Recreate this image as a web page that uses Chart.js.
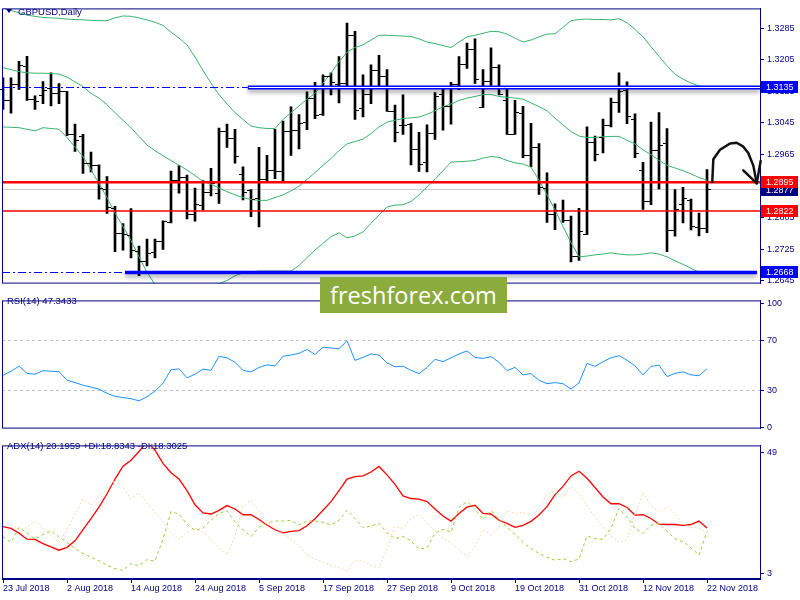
<!DOCTYPE html>
<html lang="en">
  <head>
    <meta charset="UTF-8" />
    <title>GBPUSD,Daily</title>
    <script src="https://cdn.jsdelivr.net/npm/chart.js@4.4.1/dist/chart.umd.min.js"></script>
    <style>
      body {
        margin: 0;
        background: #ffffff;
      }
      .wrap {
        position: relative;
        width: 800px;
        height: 600px;
        overflow: hidden;
        font-family: "Liberation Sans", Arial, sans-serif;
      }
      .pane {
        position: absolute;
        left: 0;
      }
      .label {
        position: absolute;
        color: #000080;
        font-size: 9.5px;
        line-height: 11px;
        white-space: nowrap;
      }
      .tri {
        position: absolute;
        left: 6px;
        top: 9px;
        width: 0;
        height: 0;
        border-left: 3px solid transparent;
        border-right: 3px solid transparent;
        border-top: 4px solid #000080;
      }
      .logo {
        position: absolute;
        left: 320px;
        top: 277px;
        width: 187px;
        height: 36px;
        background: #8bab3d;
        color: #ffffff;
        font-family: "Open Sans", sans-serif;
        font-size: 23.5px;
        line-height: 36px;
        text-align: center;
      }
    </style>
  </head>

  <body>
    <div class="wrap">
      <canvas id="mainChart" class="pane" style="top: 0px" width="800" height="292"></canvas>
      <canvas id="rsiChart" class="pane" style="top: 292px" width="800" height="145"></canvas>
      <canvas id="adxChart" class="pane" style="top: 437px" width="800" height="163"></canvas>
      <div class="tri"></div>
      <div class="label" style="left: 18px; top: 6px">GBPUSD,Daily</div>
      <div class="label" style="left: 7px; top: 295px">RSI(14) 47.3433</div>
      <div class="label" style="left: 7px; top: 440px">ADX(14) 20.1959 +DI:18.8343 -DI:18.3025</div>
      <div class="logo">freshforex.com</div>
    </div>

    <script>
      // daily bars, 23 Jul 2018 .. 22 Nov 2018
      const dateLabels = ["23 Jul 2018", "2 Aug 2018", "14 Aug 2018", "24 Aug 2018", "5 Sep 2018", "17 Sep 2018",
        "27 Sep 2018", "9 Oct 2018", "19 Oct 2018", "31 Oct 2018", "12 Nov 2018", "22 Nov 2018"];
      const dateTickBars = [0, 8, 16, 24, 32, 40, 48, 56, 64, 72, 80, 88];

      const opens = [1.3130, 1.3102, 1.3144, 1.3189, 1.3106, 1.3116, 1.3133, 1.3122, 1.3125, 1.3016,
        1.3012, 1.2943, 1.2938, 1.2878, 1.2829, 1.2767, 1.2761, 1.2721, 1.2696, 1.2717,
        1.2745, 1.2793, 1.2900, 1.2909, 1.2814, 1.2836, 1.2870, 1.2868, 1.3024, 1.3008,
        1.2915, 1.2874, 1.2854, 1.2903, 1.2927, 1.2923, 1.3025, 1.3028, 1.3047, 1.3108,
        1.3067, 1.3163, 1.3143, 1.3145, 1.3267, 1.3082, 1.3118, 1.3179, 1.3165, 1.3076,
        1.3039, 1.3043, 1.2979, 1.2945, 1.3019, 1.3118, 1.3088, 1.3144, 1.3195, 1.3232,
        1.3086, 1.3152, 1.3187, 1.3102, 1.3017, 1.3070, 1.2965, 1.2983, 1.2880, 1.2814,
        1.2824, 1.2798, 1.2707, 1.2763, 1.2996, 1.3009, 1.3041, 1.3098, 1.3129, 1.3056,
        1.2925, 1.2848, 1.2977, 1.2993, 1.2773, 1.2840, 1.2850, 1.2782, 1.2778];
      const highs = [1.3159, 1.3159, 1.3201, 1.3214, 1.3114, 1.3150, 1.3172, 1.3145, 1.3125, 1.3042,
        1.3016, 1.2971, 1.2939, 1.2909, 1.2834, 1.2790, 1.2828, 1.2733, 1.2751, 1.2751,
        1.2797, 1.2923, 1.2937, 1.2913, 1.2880, 1.2899, 1.2930, 1.3032, 1.3042, 1.3029,
        1.2934, 1.2876, 1.2983, 1.2963, 1.3029, 1.3050, 1.3086, 1.3066, 1.3124, 1.3148,
        1.3167, 1.3172, 1.3213, 1.3298, 1.3277, 1.3167, 1.3192, 1.3216, 1.3180, 1.3090,
        1.3116, 1.3044, 1.3021, 1.3040, 1.3122, 1.3130, 1.3148, 1.3213, 1.3247, 1.3258,
        1.3180, 1.3235, 1.3192, 1.3130, 1.3102, 1.3087, 1.3044, 1.2993, 1.2919, 1.2840,
        1.2850, 1.2809, 1.2829, 1.3035, 1.3012, 1.3055, 1.3108, 1.3172, 1.3149, 1.3068,
        1.2945, 1.3047, 1.3071, 1.3031, 1.2876, 1.2882, 1.2852, 1.2817, 1.2927];
      const lows = [1.3079, 1.3070, 1.3130, 1.3102, 1.3079, 1.3094, 1.3088, 1.3094, 1.3013, 1.2973,
        1.2917, 1.2921, 1.2852, 1.2816, 1.2719, 1.2723, 1.2703, 1.2658, 1.2683, 1.2703,
        1.2725, 1.2792, 1.2867, 1.2802, 1.2796, 1.2824, 1.2860, 1.2841, 1.2983, 1.2943,
        1.2850, 1.2808, 1.2782, 1.2895, 1.2904, 1.2895, 1.2963, 1.2979, 1.3028, 1.3056,
        1.3064, 1.3116, 1.3096, 1.3132, 1.3054, 1.3060, 1.3094, 1.3137, 1.3074, 1.2997,
        1.3016, 1.2939, 1.2922, 1.2921, 1.3003, 1.3027, 1.3042, 1.3129, 1.3183, 1.3145,
        1.3084, 1.3140, 1.3116, 1.3016, 1.3016, 1.2957, 1.2934, 1.2864, 1.2793, 1.2775,
        1.2793, 1.2693, 1.2697, 1.2762, 1.2949, 1.2969, 1.3035, 1.3072, 1.3043, 1.2957,
        1.2826, 1.2838, 1.2878, 1.2719, 1.2758, 1.2792, 1.2774, 1.2759, 1.2767];
      const closes = [1.3102, 1.3144, 1.3191, 1.3106, 1.3100, 1.3128, 1.3122, 1.3125, 1.3016, 1.3001,
        1.2943, 1.2938, 1.2880, 1.2832, 1.2767, 1.2763, 1.2723, 1.2696, 1.2715, 1.2745,
        1.2796, 1.2900, 1.2909, 1.2814, 1.2840, 1.2870, 1.2894, 1.3024, 1.3008, 1.2962,
        1.2871, 1.2852, 1.2903, 1.2927, 1.2923, 1.3025, 1.3028, 1.3044, 1.3108, 1.3064,
        1.3163, 1.3148, 1.3145, 1.3269, 1.3079, 1.3118, 1.3179, 1.3165, 1.3076, 1.3021,
        1.3039, 1.2979, 1.2941, 1.3019, 1.3114, 1.3088, 1.3144, 1.3195, 1.3232, 1.3157,
        1.3152, 1.3187, 1.3118, 1.3017, 1.3074, 1.2965, 1.2983, 1.2883, 1.2814, 1.2824,
        1.2800, 1.2709, 1.2771, 1.2996, 1.2966, 1.3041, 1.3098, 1.3126, 1.3062, 1.2969,
        1.2848, 1.2977, 1.2989, 1.2773, 1.2828, 1.2854, 1.2785, 1.2778, 1.2877];

      // Bollinger Bands (20, 2)
      const bbUpper = [1.3336, 1.3330, 1.3324, 1.3318, 1.3315, 1.3312, 1.3311, 1.3310, 1.3308, 1.3307,
        1.3306, 1.3305, 1.3304, 1.3304, 1.3311, 1.3316, 1.3315, 1.3311, 1.3306, 1.3300,
        1.3292, 1.3275, 1.3260, 1.3243, 1.3212, 1.3178, 1.3146, 1.3117, 1.3093, 1.3071,
        1.3054, 1.3037, 1.3033, 1.3031, 1.3031, 1.3054, 1.3071, 1.3088, 1.3105, 1.3120,
        1.3146, 1.3171, 1.3200, 1.3224, 1.3236, 1.3243, 1.3255, 1.3267, 1.3267, 1.3266,
        1.3265, 1.3264, 1.3258, 1.3250, 1.3246, 1.3241, 1.3236, 1.3250, 1.3263, 1.3267,
        1.3272, 1.3277, 1.3276, 1.3270, 1.3260, 1.3250, 1.3255, 1.3263, 1.3270, 1.3271,
        1.3287, 1.3304, 1.3307, 1.3308, 1.3307, 1.3307, 1.3306, 1.3309, 1.3299, 1.3282,
        1.3263, 1.3238, 1.3214, 1.3190, 1.3168, 1.3156, 1.3146, 1.3139, 1.3134];
      const bbMiddle = [1.3185, 1.3180, 1.3175, 1.3172, 1.3171, 1.3171, 1.3170, 1.3169, 1.3161, 1.3149,
        1.3137, 1.3120, 1.3108, 1.3091, 1.3071, 1.3052, 1.3033, 1.3011, 1.2989, 1.2975,
        1.2962, 1.2950, 1.2938, 1.2926, 1.2912, 1.2897, 1.2890, 1.2880, 1.2871, 1.2863,
        1.2856, 1.2851, 1.2849, 1.2849, 1.2856, 1.2863, 1.2873, 1.2885, 1.2902, 1.2919,
        1.2938, 1.2955, 1.2975, 1.2992, 1.2998, 1.3004, 1.3018, 1.3035, 1.3047, 1.3052,
        1.3056, 1.3058, 1.3060, 1.3067, 1.3076, 1.3086, 1.3093, 1.3102, 1.3108, 1.3112,
        1.3117, 1.3117, 1.3112, 1.3110, 1.3108, 1.3105, 1.3096, 1.3086, 1.3076, 1.3057,
        1.3040, 1.3023, 1.3012, 1.3008, 1.3008, 1.3010, 1.3011, 1.3011, 1.3001, 1.2992,
        1.2977, 1.2965, 1.2950, 1.2938, 1.2931, 1.2924, 1.2916, 1.2907, 1.2900];
      const bbLower = [1.3035, 1.3034, 1.3033, 1.3029, 1.3025, 1.3033, 1.3031, 1.3029, 1.3008, 1.2984,
        1.2960, 1.2926, 1.2892, 1.2856, 1.2817, 1.2783, 1.2747, 1.2706, 1.2667, 1.2636,
        1.2629, 1.2624, 1.2621, 1.2621, 1.2624, 1.2629, 1.2633, 1.2638, 1.2646, 1.2658,
        1.2665, 1.2668, 1.2670, 1.2670, 1.2670, 1.2670, 1.2670, 1.2684, 1.2704, 1.2723,
        1.2740, 1.2757, 1.2767, 1.2754, 1.2759, 1.2769, 1.2791, 1.2812, 1.2832, 1.2837,
        1.2838, 1.2846, 1.2863, 1.2883, 1.2902, 1.2924, 1.2946, 1.2947, 1.2948, 1.2950,
        1.2956, 1.2960, 1.2958, 1.2950, 1.2944, 1.2941, 1.2933, 1.2900, 1.2863, 1.2825,
        1.2783, 1.2742, 1.2706, 1.2708, 1.2711, 1.2713, 1.2716, 1.2713, 1.2711, 1.2711,
        1.2713, 1.2716, 1.2713, 1.2706, 1.2696, 1.2687, 1.2677, 1.2667, 1.2665];

      const rsi = [42.0, 45.3, 49.4, 43.6, 42.9, 45.8, 45.3, 45.1, 38.1, 36.2,
        34.1, 32.6, 30.9, 27.6, 25.2, 24.2, 23.3, 21.6, 24.9, 29.3,
        35.7, 46.5, 47.2, 40.0, 42.9, 47.0, 46.0, 57.3, 56.1, 52.5,
        46.0, 44.8, 48.4, 50.4, 49.6, 57.3, 58.3, 59.7, 62.8, 58.8,
        64.5, 64.0, 63.3, 69.8, 54.0, 56.4, 59.2, 58.3, 52.0, 48.9,
        49.4, 46.0, 43.4, 48.4, 54.9, 53.0, 56.1, 59.2, 61.6, 56.4,
        55.6, 57.1, 52.5, 45.8, 48.4, 42.4, 43.4, 38.1, 35.3, 36.2,
        35.3, 30.9, 36.0, 51.6, 49.2, 53.0, 56.1, 57.8, 54.2, 49.6,
        42.4, 49.2, 50.1, 41.0, 43.6, 44.8, 42.4, 41.7, 47.34];

      const adx = [20.7, 20.0, 18.2, 15.9, 15.8, 14.2, 13.0, 11.7, 12.8, 15.3,
        19.5, 23.7, 28.1, 33.2, 38.8, 43.7, 46.0, 49.3, 53.0, 49.8,
        44.8, 41.2, 38.8, 34.4, 29.0, 25.9, 25.5, 26.9, 28.7, 27.4,
        25.2, 25.2, 23.4, 21.3, 19.5, 18.3, 18.9, 19.2, 21.0, 23.7,
        26.9, 30.2, 34.4, 38.8, 39.7, 40.0, 41.5, 43.6, 40.4, 36.8,
        32.4, 31.4, 31.2, 30.2, 27.4, 24.7, 22.8, 25.7, 28.1, 28.8,
        25.7, 25.5, 23.1, 21.9, 20.4, 21.2, 22.7, 25.1, 28.3, 32.9,
        36.0, 40.0, 41.8, 39.1, 35.6, 32.0, 29.4, 29.4, 28.0, 25.1,
        25.2, 23.8, 21.6, 21.5, 21.5, 21.2, 21.5, 22.8, 20.1959];
      const plusDI = [16.9, 14.7, 20.3, 18.3, 15.9, 17.7, 19.1, 16.7, 14.7, 12.3,
        10.5, 9.1, 7.7, 6.0, 4.7, 4.0, 6.6, 5.8, 8.1, 7.5,
        15.9, 26.4, 25.5, 21.6, 19.2, 20.1, 23.1, 25.8, 26.7, 22.5,
        19.5, 16.9, 20.4, 22.1, 22.8, 22.8, 23.1, 21.3, 22.8, 22.8,
        22.4, 21.3, 23.1, 26.9, 23.7, 20.3, 20.9, 21.9, 18.3, 16.1,
        16.9, 15.3, 12.1, 12.6, 18.3, 19.7, 18.5, 28.1, 30.2, 27.3,
        23.3, 26.9, 23.4, 20.4, 17.7, 14.7, 12.3, 10.5, 9.0, 7.9,
        8.5, 7.3, 8.4, 17.1, 16.1, 15.9, 20.1, 27.6, 24.3, 20.1,
        18.1, 21.2, 21.9, 18.9, 16.1, 15.0, 12.6, 9.9, 18.8343];
      const minusDI = [22.6, 21.5, 19.5, 20.4, 22.8, 20.1, 17.3, 14.7, 19.5, 25.5,
        31.2, 28.8, 32.6, 34.8, 38.6, 35.6, 31.2, 33.6, 29.6, 26.1,
        22.6, 18.5, 15.9, 18.5, 20.1, 18.6, 15.7, 12.6, 9.9, 17.1,
        28.4, 30.7, 26.4, 22.4, 20.7, 17.8, 15.8, 13.3, 9.9, 8.3,
        7.1, 5.9, 5.0, 3.8, 7.9, 7.7, 5.9, 4.9, 12.3, 20.7,
        20.1, 23.7, 25.5, 22.1, 18.9, 16.1, 14.7, 11.7, 9.3, 13.3,
        19.5, 17.6, 20.3, 26.9, 25.7, 26.1, 24.9, 28.1, 32.9, 34.1,
        31.7, 36.2, 33.2, 28.4, 24.3, 20.7, 17.1, 14.7, 15.7, 25.5,
        33.6, 28.8, 26.1, 28.4, 25.5, 21.9, 20.3, 20.1, 18.3025];

      const priceTicks = [1.3285, 1.3205, 1.3125, 1.3045, 1.2965, 1.2885, 1.2805, 1.2725, 1.2645];
      const priceRange = [1.26382, 1.33351];
      const rsiTicks = [100, 70, 30, 0];
      const rsiLevels = [70, 30];
      const rsiRange = [-0.72, 102.16];
      const adxTicks = [49, 3];
      const adxRange = [0.74, 51.62];

      // levels drawn on the chart
      const resistance = 1.3135;
      const support = 1.2668;
      const redLevels = [1.2895, 1.2822];
      const bidPrice = 1.2877;

      // hand drawn arrow (bar index, price)
      const arrowBars = [88.66, 88.79, 89.63, 90.88, 91.71, 92.54, 93.16, 93.79, 94.21];
      const arrowPrices = [1.2896, 1.2953, 1.2977, 1.2993, 1.2995, 1.2985, 1.2969, 1.2937, 1.2892];
      const arrowHeadBars = [92.54, 94.21, 94.71];
      const arrowHeadPrices = [1.2925, 1.2892, 1.2949];

      const NAVY = "#000080";
      Chart.defaults.font.family = "'Liberation Sans', Arial, sans-serif";
      Chart.defaults.font.size = 9;
      Chart.defaults.animation = false;

      const xRange = { type: "linear", min: -0.125, max: 94.625, offset: false, grace: 0 };
      const pts = (arr) => arr.map((v, i) => ({ x: i, y: v }));

      function rightAxis(range, tickList, fmt) {
        return {
          position: "right",
          min: range[0],
          max: range[1],
          afterBuildTicks: (s) => {
            s.ticks = tickList.map((v) => ({ value: v }));
          },
          afterFit: (s) => {
            s.width = 40;
          },
          ticks: { autoSkip: false, color: NAVY, padding: 3, callback: fmt },
          grid: { drawOnChartArea: false, tickLength: 4, color: NAVY },
          border: { color: NAVY },
        };
      }

      const frame = {
        id: "frame",
        afterDraw(chart) {
          const { ctx, chartArea: a } = chart;
          ctx.save();
          ctx.strokeStyle = NAVY;
          ctx.lineWidth = 1;
          ctx.strokeRect(a.left + 0.5, a.top + 0.5, a.right - a.left, a.bottom - a.top - 1);
          ctx.restore();
        },
      };

      function hLine(ctx, y, x0, x1, color, width, dash) {
        ctx.save();
        ctx.strokeStyle = color;
        ctx.lineWidth = width;
        ctx.setLineDash(dash || []);
        ctx.beginPath();
        ctx.moveTo(x0, y);
        ctx.lineTo(x1, y);
        ctx.stroke();
        ctx.restore();
      }

      function priceBox(ctx, y, text, bg) {
        ctx.fillStyle = bg;
        ctx.fillRect(761, Math.round(y) - 6, 37, 12);
        ctx.fillStyle = "#ffffff";
        ctx.font = "9px 'Liberation Sans', Arial, sans-serif";
        ctx.textBaseline = "middle";
        ctx.fillText(text, 766, Math.round(y) + 0.5);
      }

      const mainDecor = {
        id: "mainDecor",
        beforeDatasetsDraw(chart) {
          const { ctx, chartArea: a, scales: { y } } = chart;
          hLine(ctx, Math.round(y.getPixelForValue(bidPrice)) + 0.5, a.left, a.right, "#cfcfcf", 1);
        },
        afterDatasetsDraw(chart) {
          const { ctx, chartArea: a, scales: { x, y } } = chart;
          ctx.save();
          // open / close ticks of the bars
          ctx.fillStyle = "#000000";
          closes.forEach((c, i) => {
            const px = Math.round(x.getPixelForValue(i));
            ctx.fillRect(px - 4, Math.round(y.getPixelForValue(opens[i])), 3, 1);
            ctx.fillRect(px + 1, Math.round(y.getPixelForValue(c)), 3, 1);
          });

          // red levels
          hLine(ctx, y.getPixelForValue(redLevels[0]), a.left, a.right, "#ff0000", 2.5);
          hLine(ctx, y.getPixelForValue(redLevels[1]), a.left, a.right, "#ff0000", 1.5);

          // resistance: dash-dot line + double trend line
          const yr = Math.round(y.getPixelForValue(resistance));
          const xr = x.getPixelForValue(30.6);
          hLine(ctx, yr + 0.5, a.left, xr, "#0000ff", 1.2, [8, 3, 2, 3]);
          ctx.save();
          ctx.shadowColor = "rgba(0,0,0,0.35)";
          ctx.shadowBlur = 4;
          ctx.shadowOffsetY = 3;
          hLine(ctx, yr + 0.5, xr, a.right, "#0000ff", 4);
          ctx.restore();
          hLine(ctx, yr + 0.5, xr + 1, a.right, "#ffffff", 1);

          // support: dash-dot line + thick trend line
          const ys = Math.round(y.getPixelForValue(support)) + 0.5;
          const xs = x.getPixelForValue(15.25);
          hLine(ctx, ys, a.left, xs, "#0000ff", 1.2, [8, 3, 2, 3]);
          ctx.save();
          ctx.shadowColor = "rgba(0,0,0,0.35)";
          ctx.shadowBlur = 4;
          ctx.shadowOffsetY = 3;
          hLine(ctx, ys, xs, x.getPixelForValue(94.25), "#0000ff", 3.5);
          ctx.restore();
          ctx.restore();
        },
        afterDraw(chart) {
          const { ctx, scales: { x, y } } = chart;
          ctx.save();
          // arrow
          ctx.strokeStyle = "#111111";
          ctx.lineWidth = 2.5;
          ctx.lineJoin = "round";
          ctx.lineCap = "round";
          ctx.beginPath();
          arrowBars.forEach((b, i) => {
            const px = x.getPixelForValue(b);
            const py = y.getPixelForValue(arrowPrices[i]);
            if (i === 0) ctx.moveTo(px, py);
            else ctx.lineTo(px, py);
          });
          ctx.stroke();
          ctx.beginPath();
          arrowHeadBars.forEach((b, i) => {
            const px = x.getPixelForValue(b);
            const py = y.getPixelForValue(arrowHeadPrices[i]);
            if (i === 0) ctx.moveTo(px, py);
            else ctx.lineTo(px, py);
          });
          ctx.stroke();

          // price labels on the axis
          priceBox(ctx, y.getPixelForValue(bidPrice) + 1, bidPrice.toFixed(4), NAVY);
          priceBox(ctx, y.getPixelForValue(redLevels[0]), redLevels[0].toFixed(4), "#ff0000");
          priceBox(ctx, y.getPixelForValue(redLevels[1]), redLevels[1].toFixed(4), "#ff0000");
          priceBox(ctx, y.getPixelForValue(resistance), resistance.toFixed(4), "#0000ff");
          priceBox(ctx, y.getPixelForValue(support), support.toFixed(4), "#0000ff");
          ctx.restore();
        },
      };

      const rsiDecor = {
        id: "rsiDecor",
        beforeDatasetsDraw(chart) {
          const { ctx, chartArea: a, scales: { y } } = chart;
          rsiLevels.forEach((v) => {
            hLine(ctx, Math.round(y.getPixelForValue(v)) + 0.5, a.left, a.right, "#c0c0c0", 1, [3, 3]);
          });
        },
      };

      const noLegend = { legend: { display: false }, tooltip: { enabled: false } };

      new Chart(document.getElementById("mainChart"), {
        data: {
          datasets: [
            { type: "line", data: pts(bbUpper), borderColor: "#3cb371", borderWidth: 1, pointRadius: 0, order: 1 },
            { type: "line", data: pts(bbMiddle), borderColor: "#3cb371", borderWidth: 1, pointRadius: 0, order: 1 },
            { type: "line", data: pts(bbLower), borderColor: "#3cb371", borderWidth: 1, pointRadius: 0, order: 1 },
            {
              type: "bar",
              data: highs.map((h, i) => ({ x: i, y: [lows[i], h] })),
              backgroundColor: "#000000",
              barThickness: 2,
              grouped: false,
              order: 2,
            },
          ],
        },
        options: {
          responsive: false,
          events: [],
          layout: { autoPadding: false, padding: { left: 2, top: 2, right: 0, bottom: 2 } },
          scales: {
            x: { ...xRange, display: false, grid: { offset: false } },
            y: rightAxis(priceRange, priceTicks, (v) => v.toFixed(4)),
          },
          plugins: noLegend,
        },
        plugins: [frame, mainDecor],
      });

      new Chart(document.getElementById("rsiChart"), {
        type: "line",
        data: {
          datasets: [{ data: pts(rsi), borderColor: "#1e90ff", borderWidth: 1, pointRadius: 0 }],
        },
        options: {
          responsive: false,
          events: [],
          layout: { autoPadding: false, padding: { left: 2, top: 0, right: 0, bottom: 2 } },
          scales: {
            x: { ...xRange, display: false },
            y: rightAxis(rsiRange, rsiTicks, (v) => String(v)),
          },
          plugins: noLegend,
        },
        plugins: [frame, rsiDecor],
      });

      new Chart(document.getElementById("adxChart"), {
        type: "line",
        data: {
          datasets: [
            { data: pts(minusDI), borderColor: "#f5d9ae", borderWidth: 1, borderDash: [2, 2], pointRadius: 0 },
            { data: pts(plusDI), borderColor: "#9acd32", borderWidth: 1, borderDash: [3, 3], pointRadius: 0 },
            { data: pts(adx), borderColor: "#ff0000", borderWidth: 1.3, pointRadius: 0 },
          ],
        },
        options: {
          responsive: false,
          events: [],
          layout: { autoPadding: false, padding: { left: 2, top: 0, right: 0, bottom: 0 } },
          scales: {
            x: {
              ...xRange,
              afterBuildTicks: (s) => {
                s.ticks = dateTickBars.map((v) => ({ value: v }));
              },
              afterFit: (s) => {
                s.height = 21;
              },
              ticks: {
                autoSkip: false,
                maxRotation: 0,
                align: "start",
                padding: 0,
                color: NAVY,
                callback: (v, i) => dateLabels[i],
              },
              grid: { drawOnChartArea: false, tickLength: 4, color: NAVY },
              border: { color: NAVY },
            },
            y: rightAxis(adxRange, adxTicks, (v) => String(v)),
          },
          plugins: noLegend,
        },
        plugins: [frame],
      });
    </script>
  </body>
</html>
